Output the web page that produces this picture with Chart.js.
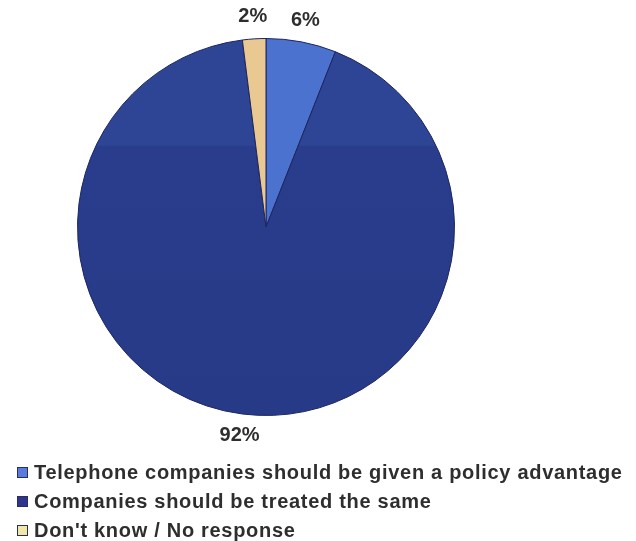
<!DOCTYPE html>
<html>
<head>
<meta charset="utf-8">
<script src="https://cdn.jsdelivr.net/npm/chart.js@4.4.1/dist/chart.umd.min.js"></script>
<style>
    body { margin: 0; background: #ffffff; }
    #wrap { position: relative; width: 636px; height: 541px; }
    #grafica { position: absolute; left: 0; top: 0; }
    #leyenda { position: absolute; left: 17px; top: 460px; font-family: "Liberation Sans", Arial, sans-serif; font-weight: bold; font-size: 20px; letter-spacing: 0.7px; color: #2e2e2e; }
    .fila { height: 29px; line-height: 24px; white-space: nowrap; }
    .caja { display: inline-block; width: 9px; height: 9px; border: 1px solid #2a2f55; margin-right: 6px; vertical-align: 1px; }
</style>
</head>
<body>
<div id="wrap">
    <canvas id="grafica" width="636" height="541"></canvas>
    <div id="leyenda"></div>
</div>
<script>
const categorias = [
    'Telephone companies should be given a policy advantage',
    'Companies should be treated the same',
    "Don't know / No response"
];
const porcentajes = [6, 92, 2];
const colores = ['#4c72cf', '#2b3f8f', '#e9c891'];
const coloresLeyenda = ['#5a7ae0', '#2f358f', '#f1e8a8'];

// etiquetas de porcentaje fuera de cada sector
const etiquetasFuera = {
    id: 'etiquetasFuera',
    afterDatasetsDraw(chart) {
        const ctx = chart.ctx;
        const meta = chart.getDatasetMeta(0);
        ctx.save();
        ctx.font = 'bold 20px "Liberation Sans", Arial, sans-serif';
        ctx.fillStyle = '#2e2e2e';
        ctx.textAlign = 'center';
        ctx.textBaseline = 'middle';
        meta.data.forEach(function(arco, i) {
            const medio = (arco.startAngle + arco.endAngle) / 2;
            const r = arco.outerRadius + 22;
            const x = arco.x + Math.cos(medio) * r;
            const y = arco.y + Math.sin(medio) * r;
            ctx.fillText(porcentajes[i] + '%', x, y);
        });
        ctx.restore();
    }
};

// el sector grande se ve algo mas claro en su parte de arriba
function rellenoOscuro(context) {
    const area = context.chart.chartArea;
    if (!area) return colores[1];
    const g = context.chart.ctx.createLinearGradient(0, area.top, 0, area.bottom);
    g.addColorStop(0, '#2e4494');
    g.addColorStop(0.284, '#2e4494');
    g.addColorStop(0.286, '#293d8c');
    g.addColorStop(1, '#273a88');
    return g;
}

const ctx = document.getElementById('grafica').getContext('2d');
new Chart(ctx, {
    type: 'pie',
    data: {
        labels: categorias,
        datasets: [{
            data: porcentajes,
            backgroundColor: function(context) {
                return context.dataIndex === 1 ? rellenoOscuro(context) : colores[context.dataIndex];
            },
            borderColor: '#1c2660',
            borderWidth: 1
        }]
    },
    options: {
        responsive: false,
        animation: false,
        layout: { padding: { left: 77, top: 38, right: 181, bottom: 125 } },
        plugins: {
            legend: { display: false },
            tooltip: { enabled: false }
        }
    },
    plugins: [etiquetasFuera]
});

// leyenda en html
const leyenda = document.getElementById('leyenda');
categorias.forEach(function(texto, i) {
    const fila = document.createElement('div');
    fila.className = 'fila';
    const caja = document.createElement('span');
    caja.className = 'caja';
    caja.style.background = coloresLeyenda[i];
    fila.appendChild(caja);
    fila.appendChild(document.createTextNode(texto));
    leyenda.appendChild(fila);
});
</script>
</body>
</html>
